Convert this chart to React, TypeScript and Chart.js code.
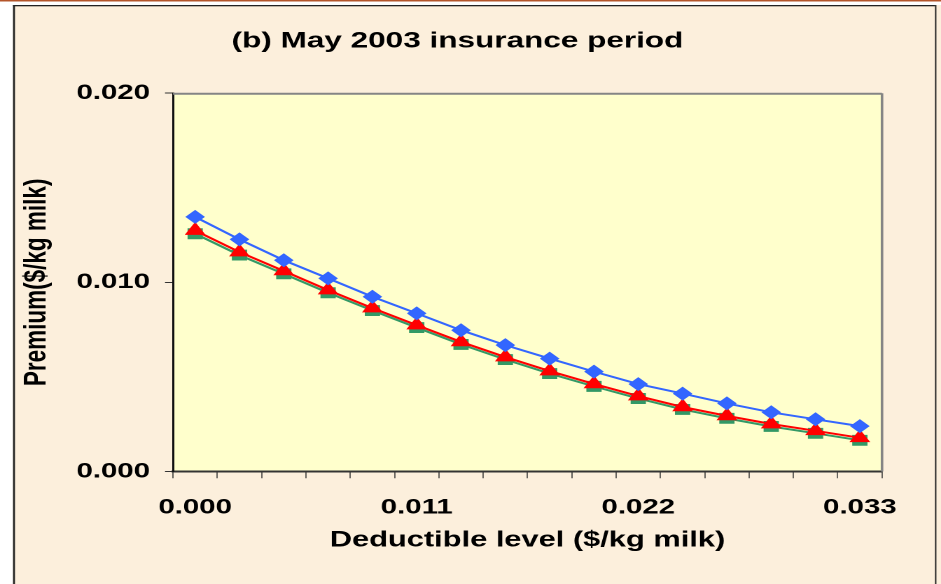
import React, { useEffect, useRef } from "react";
import { Chart, registerables } from "chart.js";

Chart.register(...registerables);

// ---- data ----
const deductibleLevels = [
  "0.000", "0.002", "0.004", "0.007", "0.009", "0.011", "0.013", "0.015",
  "0.018", "0.020", "0.022", "0.024", "0.026", "0.029", "0.031", "0.033",
];
const labelEvery = 5;

const seriesBlue = [
  0.01346, 0.01227, 0.01117, 0.01021, 0.00924, 0.00836, 0.00747, 0.00668,
  0.00597, 0.00528, 0.00462, 0.00412, 0.0036, 0.00313, 0.00276, 0.0024,
];
const seriesRed = [
  0.01274, 0.0116, 0.0106, 0.00959, 0.00864, 0.00774, 0.00685, 0.00605,
  0.00531, 0.00463, 0.00399, 0.00341, 0.00294, 0.00251, 0.00215, 0.00178,
];
const seriesGreen = [
  0.01257, 0.01144, 0.01045, 0.00945, 0.00851, 0.00761, 0.00672, 0.00592,
  0.00518, 0.0045, 0.00386, 0.00328, 0.00281, 0.00238, 0.00202, 0.00165,
];
const yTicks = [0, 0.01, 0.02];

const TITLE = "(b) May 2003 insurance period";
const X_TITLE = "Deductible level ($/kg milk)";
const Y_TITLE = "Premium($/kg milk)";

// ---- geometry (canvas is drawn narrow and stretched horizontally) ----
const OUT_W = 941;
const OUT_H = 584;
const CW = 672;
const SX = OUT_W / CW;
const FONT = "'Liberation Sans', Arial, Helvetica, sans-serif";

const framePlugin = {
  id: "frame",
  beforeDraw(chart: any) {
    const { ctx, width, height, chartArea } = chart;
    ctx.save();
    ctx.fillStyle = "#FFFFFF";
    ctx.fillRect(0, 0, width, height);
    const fx = 13 / SX;
    const rx = 935 / SX;
    ctx.fillStyle = "#FCEFDC";
    ctx.fillRect(fx, 5, width - fx, height - 5);
    ctx.fillStyle = "#B4552A";
    ctx.fillRect(0, 0, width, 1.5);
    ctx.fillStyle = "#222222";
    ctx.fillRect(fx, 5, 1.4, height - 5);
    ctx.fillRect(fx, 5, rx - fx, 1.3);
    ctx.fillRect(rx, 5, 1.0, height - 5);
    ctx.fillStyle = "#FFFFCC";
    ctx.fillRect(
      chartArea.left,
      chartArea.top,
      chartArea.right - chartArea.left,
      chartArea.bottom - chartArea.top
    );
    ctx.restore();
  },
  beforeDatasetsDraw(chart: any) {
    const { ctx, chartArea } = chart;
    ctx.save();
    ctx.strokeStyle = "#858585";
    ctx.lineWidth = 2;
    ctx.beginPath();
    ctx.moveTo(chartArea.left, chartArea.top + 0.5);
    ctx.lineTo(chartArea.right, chartArea.top + 0.5);
    ctx.stroke();
    ctx.lineWidth = 1.8;
    ctx.beginPath();
    ctx.moveTo(chartArea.right, chartArea.top);
    ctx.lineTo(chartArea.right, chartArea.bottom);
    ctx.stroke();
    ctx.restore();
  },
};

export default function App() {
  const ref = useRef<HTMLCanvasElement | null>(null);

  useEffect(() => {
    if (!ref.current) return;
    const chart = new Chart(ref.current, {
      type: "line",
      data: {
        labels: deductibleLevels,
        datasets: [
          {
            label: "A",
            data: seriesBlue,
            borderColor: "#3366FF",
            backgroundColor: "#3366FF",
            borderWidth: 2,
            pointStyle: "rectRot",
            pointRadius: 6.3,
            pointBorderWidth: 1,
            tension: 0,
          },
          {
            label: "B",
            data: seriesRed,
            borderColor: "#FF0000",
            backgroundColor: "#FF0000",
            borderWidth: 2,
            pointStyle: "triangle",
            pointRadius: 7.6,
            pointBorderWidth: 1,
            tension: 0,
          },
          {
            label: "C",
            data: seriesGreen,
            borderColor: "#339966",
            backgroundColor: "#339966",
            borderWidth: 2,
            pointStyle: "rect",
            pointRadius: 7,
            pointBorderWidth: 1,
            tension: 0,
          },
        ],
      },
      options: {
        animation: false,
        responsive: false,
        devicePixelRatio: 2,
        events: [],
        layout: { padding: { left: 10, right: 28.6, top: 5, bottom: 20 } },
        plugins: {
          legend: { display: false },
          tooltip: { enabled: false },
          title: {
            display: true,
            text: TITLE,
            color: "#000000",
            font: { family: FONT, size: 22.5, weight: "bold" },
            padding: { top: 22.8, bottom: 38.4 },
          },
        },
        scales: {
          x: {
            type: "category",
            offset: true,
            grid: {
              offset: true,
              drawOnChartArea: false,
              drawTicks: true,
              tickLength: 6.7,
              color: "#333333",
              lineWidth: 0.75,
            },
            border: { display: true, color: "#333333", width: 2 },
            ticks: {
              autoSkip: false,
              maxRotation: 0,
              minRotation: 0,
              padding: 16.8,
              color: "#000000",
              font: { family: FONT, size: 21, weight: "bold" },
              callback: function (this: any, value: any, index: number) {
                return index % labelEvery === 0 ? this.getLabelForValue(value) : "";
              },
            },
            title: {
              display: true,
              text: X_TITLE,
              color: "#000000",
              font: { family: FONT, size: 22, weight: "bold" },
              padding: { top: 0, bottom: 10.6 },
            },
            afterFit: (scale: any) => {
              scale.height = OUT_H - 20 - 471.5;
            },
          },
          y: {
            type: "linear",
            min: 0,
            max: 0.02,
            afterBuildTicks: (scale: any) => {
              scale.ticks = yTicks.map((v) => ({ value: v }));
            },
            grid: {
              drawOnChartArea: false,
              drawTicks: true,
              tickLength: 5.7,
              color: "#333333",
              lineWidth: 1,
            },
            border: { display: true, color: "#111111", width: 1.5 },
            ticks: {
              padding: 10.7,
              color: "#000000",
              font: { family: FONT, size: 21, weight: "bold" },
              callback: (v: any) => Number(v).toFixed(3),
            },
            title: {
              display: true,
              text: Y_TITLE,
              color: "#000000",
              font: { family: FONT, size: 22.5, weight: "bold" },
              padding: { top: 3, bottom: 0 },
            },
            afterFit: (scale: any) => {
              scale.width = 173 / SX - 10;
            },
          },
          yR: {
            type: "linear",
            position: "right",
            display: true,
            grid: { display: false },
            border: { display: false },
            ticks: { display: false },
            afterFit: (scale: any) => {
              scale.width = CW - 28.6 - 882 / SX;
            },
          },
        },
      },
      plugins: [framePlugin],
    });
    return () => chart.destroy();
  }, []);

  return (
    <div
      style={{
        position: "fixed",
        left: 0,
        top: 0,
        width: OUT_W,
        height: OUT_H,
        overflow: "hidden",
        background: "#FFFFFF",
      }}
    >
      <canvas
        ref={ref}
        width={CW}
        height={OUT_H}
        style={{
          display: "block",
          transform: `scaleX(${SX})`,
          transformOrigin: "0 0",
        }}
      />
    </div>
  );
}
